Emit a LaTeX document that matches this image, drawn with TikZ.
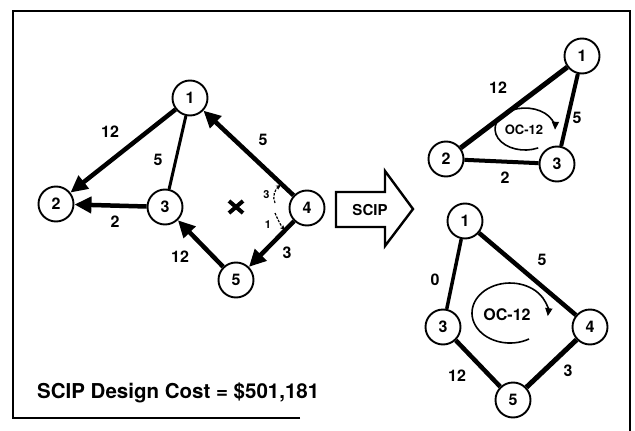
\documentclass[tikz,border=0pt]{standalone}
\usepackage{fontspec}
\setmainfont{TeX Gyre Heros}
\usetikzlibrary{arrows.meta}
\begin{document}
\begin{tikzpicture}[x=1pt,y=-1pt,
  nd/.style={circle,draw,line width=1.9pt,minimum size=35pt,inner sep=0pt,font=\fontsize{16}{16}\selectfont\bfseries},
  el/.style={inner sep=0pt,font=\fontsize{16}{16}\selectfont\bfseries},
  sl/.style={inner sep=0pt,font=\fontsize{11}{11}\selectfont\bfseries},
  thk/.style={line width=4.5pt},
  med/.style={line width=3pt},
  arr/.style={thk,-{Triangle[length=17pt,width=16pt]}},
  smallarr/.style={line width=1.2pt,dash pattern=on 2.5pt off 1.3pt,-{Stealth[length=5pt,width=4.5pt]}},
  looparr/.style={line width=1.6pt,-{Triangle[length=8pt,width=7pt]}},
  frame/.style={line width=2pt}]
\useasboundingbox (0,0) rectangle (635,431);
% frame
\draw[frame] (300,418) -- (13,418) -- (13,11) -- (630,11) -- (630,431);

% ---- left graph ----
\node[nd] (a1) at (190,98) {1};
\node[nd] (a2) at (56,204) {2};
\node[nd] (a3) at (165,207) {3};
\node[nd] (a4) at (307,208) {4};
\node[nd] (a5) at (236,280) {5};
\draw[arr] (a1) -- (a2);
\draw[med] (a1) -- (a3);
\draw[arr] (a3) -- (a2);
\draw[arr] (a4) -- (a1);
\draw[arr] (a4) -- (a5);
\draw[arr] (a5) -- (a3);
\node[el] (la12) at (110,132) {12};
\node[el] (la13) at (158,160) {5};
\node[el] (la32) at (115,222) {2};
\node[el] (la41) at (263,140) {5};
\node[el] (la45) at (287,253) {3};
\node[el] (la53) at (180,257) {12};
% cross mark
\coordinate (xm) at (236,207);
\draw[line width=4pt] ([shift={(-7,-6)}]xm) -- ([shift={(7,6)}]xm);
\draw[line width=4pt] ([shift={(-7,6)}]xm) -- ([shift={(7,-6)}]xm);
% small arrows at node 4
\coordinate (su0) at (275,203);
\coordinate (su1) at (281,185);
\coordinate (sd0) at (275,213);
\coordinate (sd1) at (285,230);
\draw[smallarr] (su0) .. controls (272,197) and (275,189) .. (su1);
\draw[smallarr] (sd0) .. controls (278,220) and (281,226) .. (sd1);
\node[sl] (ls3) at (266.5,195) {3};
\node[sl] (ls1) at (268,225) {1};

% ---- SCIP block arrow ----
\draw[line width=2.4pt,line join=miter] (336,192) -- (385,192) -- (385,171) -- (413,209) -- (385,246) -- (385,227) -- (336,227) -- cycle;
\node[inner sep=0pt,font=\fontsize{15}{15}\selectfont\bfseries] (scip) at (370,210) {SCIP};

% ---- right top ring ----
\node[nd] (b1) at (582,56) {1};
\node[nd] (b2) at (446,159) {2};
\node[nd] (b3) at (557,164) {3};
\draw[line width=5pt] (b1) -- (b2);
\draw[line width=4pt] (b1) -- (b3);
\draw[line width=4pt] (b2) -- (b3);
\node[el] (lb12) at (498,88) {12};
\node[el] (lb13) at (577,118) {5};
\node[el] (lb23) at (505,178) {2};
\node[inner sep=0pt,font=\fontsize{13}{13}\selectfont\bfseries] (oc1) at (524,130) {OC-12};
\draw[looparr] (538.2,147.9) arc[start angle=-64, end angle=-362, x radius=30pt, y radius=21pt];

% ---- right bottom ring ----
\node[nd] (c1) at (465,221) {1};
\node[nd] (c3) at (443,327) {3};
\node[nd] (c4) at (590,327) {4};
\node[nd] (c5) at (513,400) {5};
\draw[line width=3.5pt] (c1) -- (c3);
\draw[thk] (c1) -- (c4);
\draw[thk] (c3) -- (c5);
\draw[line width=5pt] (c4) -- (c5);
\node[el] (lc13) at (435,280) {0};
\node[el] (lc14) at (542,260) {5};
\node[el] (lc35) at (457,376) {12};
\node[el] (lc45) at (568,371) {3};
\node[inner sep=0pt,font=\fontsize{16}{16}\selectfont\bfseries] (oc2) at (507,315) {OC-12};
\draw[looparr] (529,339) arc[start angle=-60, end angle=-366, x radius=38pt, y radius=30pt];

% ---- title ----
\node[anchor=base west,inner sep=0pt,font=\fontsize{20.5}{20.5}\selectfont\bfseries] (title) at (37,398) {SCIP Design Cost = \$501,181};
\end{tikzpicture}
\end{document}
